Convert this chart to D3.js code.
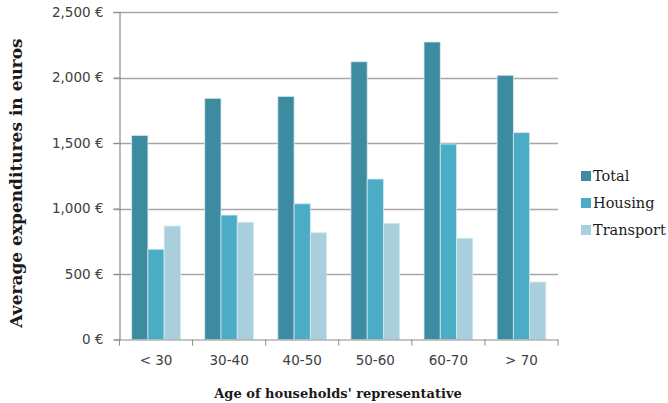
<!DOCTYPE html>
<html><head><meta charset="utf-8">
<script src="https://cdn.jsdelivr.net/npm/d3@7/dist/d3.min.js"></script>
<style>body{margin:0;background:#fff}</style>
</head><body><svg id="c" width="668" height="403"></svg>
<script>
const categories = ["< 30", "30-40", "40-50", "50-60", "60-70", "> 70"];
const seriesNames = ["Total", "Housing", "Transport"];
const total = [1558, 1841, 1856, 2120, 2271, 2017];
const housing = [689, 950, 1036, 1225, 1492, 1579];
const transport = [866, 895, 815, 887, 773, 439];
const yTicks = [0, 500, 1000, 1500, 2000, 2500];
const colors = ["#3c8ba1", "#4bacc6", "#a9cfdc"];

(function () {
const seriesValues = [total, housing, transport];
const svg = d3.select("#c");
const pLeft = 119.5, pRight = 558, pTop = 12, pBottom = 339.5;

const x = d3.scaleBand().domain(categories).range([pLeft, pRight]).paddingInner(0).paddingOuter(0);
const y = d3.scaleLinear().domain([0, 2500]).range([pBottom, pTop]);
const bw = x.bandwidth() / 4.5;
const x1 = d3.scaleBand().domain(seriesNames).range([bw * 0.75, bw * 3.75]);

// gridlines
svg.append("g").selectAll("line").data(yTicks.filter(d => d > 0)).join("line")
  .attr("x1", pLeft - 6).attr("x2", pRight)
  .attr("y1", d => Math.round(y(d)) + 0.5).attr("y2", d => Math.round(y(d)) + 0.5)
  .attr("stroke", "#a6a6a6").attr("stroke-width", 1.3);

// bars
const groups = svg.append("g").selectAll("g").data(categories).join("g")
  .attr("transform", d => `translate(${x(d)},0)`);
groups.selectAll("rect").data((c, i) => seriesNames.map((s, j) => ({s, j, v: seriesValues[j][i]})))
  .join("rect")
  .attr("x", d => x1(d.s)).attr("width", x1.bandwidth())
  .attr("y", d => y(d.v)).attr("height", d => y(0) - y(d.v))
  .attr("fill", d => colors[d.j])
  .attr("stroke", "#d4e8ef").attr("stroke-width", 0.8);

// y axis
const yAxis = d3.axisLeft(y).tickValues(yTicks).tickSize(6).tickPadding(10)
  .tickFormat(d => d3.format(",")(d) + " €");
const ga = svg.append("g").attr("transform", `translate(${pLeft},0)`).call(yAxis);
ga.select(".domain").attr("stroke", "#8c8c8c").attr("stroke-width", 1.2);
ga.selectAll(".tick line").attr("stroke", "#8c8c8c");
ga.selectAll("text").attr("font-family", "DejaVu Sans").attr("font-size", 13.5).attr("fill", "#404040");

// x axis
const xAxis = d3.axisBottom(x).tickSize(0).tickPadding(16);
const gx = svg.append("g").attr("transform", `translate(0,${pBottom})`).call(xAxis);
gx.select(".domain").attr("stroke", "#8c8c8c").attr("stroke-width", 1.2);
gx.selectAll("text").attr("font-family", "DejaVu Sans").attr("font-size", 13.5).attr("fill", "#404040");
svg.append("g").selectAll("line").data(d3.range(categories.length + 1)).join("line")
  .attr("x1", i => pLeft + i * x.bandwidth()).attr("x2", i => pLeft + i * x.bandwidth())
  .attr("y1", pBottom).attr("y2", pBottom + 6).attr("stroke", "#8c8c8c");

// titles
svg.append("text").attr("x", 338).attr("y", 398).attr("text-anchor", "middle")
  .attr("font-family", "DejaVu Serif").attr("font-weight", "bold").attr("font-size", 13)
  .attr("fill", "#1a1a1a").text("Age of households' representative");
svg.append("text").attr("transform", "translate(22,183) rotate(-90)").attr("text-anchor", "middle")
  .attr("font-family", "DejaVu Serif").attr("font-weight", "bold").attr("font-size", 17)
  .attr("fill", "#1a1a1a").text("Average expenditures in euros");

// legend
const lg = svg.append("g").selectAll("g").data(seriesNames).join("g")
  .attr("transform", (d, i) => `translate(581,${176 + i * 27})`);
lg.append("rect").attr("x", 0).attr("y", -5).attr("width", 10).attr("height", 10)
  .attr("fill", (d, i) => colors[i]);
lg.append("text").attr("x", 12).attr("y", 5).attr("font-family", "DejaVu Serif")
  .attr("font-size", 14.5).attr("fill", "#1a1a1a").text(d => d);
})();
</script></body></html>
